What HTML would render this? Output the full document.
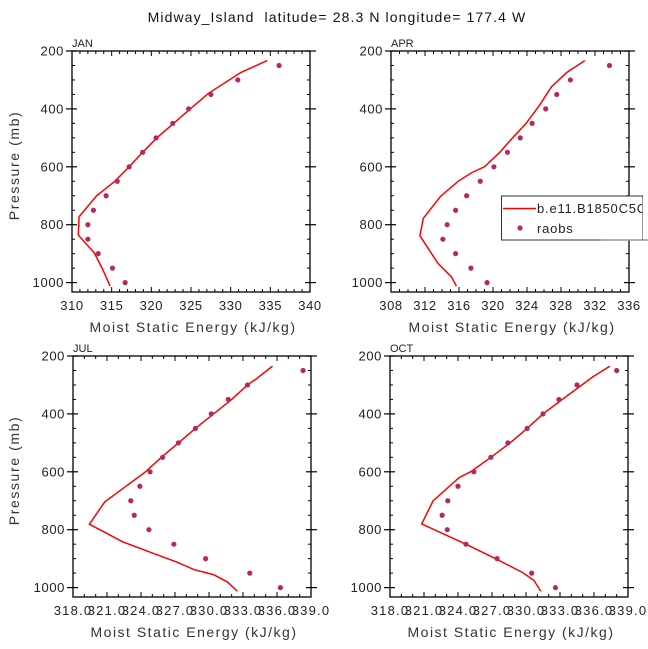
<!DOCTYPE html>
<html><head><meta charset="utf-8"><style>
html,body{margin:0;padding:0;background:#fff;}
svg{display:block;font-family:"Liberation Sans",sans-serif;}
</style></head><body>
<svg id="chart" width="648" height="649" viewBox="0 0 648 649" xmlns="http://www.w3.org/2000/svg">
<rect x="0" y="0" width="648" height="649" fill="#fff"/>
<text x="337" y="22" font-size="14" text-anchor="middle" fill="#111" letter-spacing="1.1" style="white-space:pre">Midway_Island  latitude= 28.3 N longitude= 177.4 W</text>
</svg>
<script>
// ---- data ----
const obsLevels = [250,300,350,400,450,500,550,600,650,700,750,800,850,900,950,1000];
const janObs = [336.1,330.9,327.5,324.7,322.7,320.6,318.9,317.2,315.7,314.3,312.7,312.0,312.0,313.3,315.1,316.7];
const aprObs = [333.7,329.1,327.5,326.2,324.6,323.2,321.7,320.1,318.5,316.9,315.6,314.6,314.1,315.6,317.4,319.3];
const julObs = [338.3,333.4,331.7,330.2,328.8,327.3,325.9,324.8,323.9,323.1,323.4,324.7,326.9,329.7,333.6,336.3];
const octObs = [338.0,334.5,332.9,331.5,330.1,328.4,326.9,325.4,324.0,323.1,322.6,323.05,324.7,327.45,330.5,332.6];
const janModelP = [233,274,346,400,450,500,550,600,650,700,772,836,897,950,1012];
const janModel = [334.6,331.3,327.2,324.9,322.8,320.7,318.9,317.2,315.4,313.1,310.9,310.8,312.8,313.8,314.8];
const aprModelP = [233,274,323,386,450,500,550,600,620,650,703,778,838,933,980,1012];
const aprModel = [330.8,328.7,326.9,325.5,323.9,322.3,320.8,319.0,317.5,315.9,313.8,311.8,311.4,313.5,315.1,315.7];
const julModelP = [235,278,300,350,400,450,500,550,600,623,704,781,842,882,911,938,955,980,1012];
const julModel = [335.6,334.2,333.4,332.0,330.4,328.8,327.3,325.8,324.4,323.6,320.8,319.45,322.4,325.1,327.1,328.7,330.4,331.6,332.5];
const octModelP = [235,272,350,400,450,500,550,600,620,700,780,850,900,948,975,1012];
const octModel = [337.4,335.9,333.2,331.5,330.1,328.6,326.9,325.1,324.1,321.8,320.8,324.7,327.3,329.7,330.7,331.3];
const janTicks = [310,315,320,325,330,335,340];
const aprTicks = [308,312,316,320,324,328,332,336];
const julTicks = [318,321,324,327,330,333,336,339];
const octTicks = [318,321,324,327,330,333,336,339];
const pTicks = [200,400,600,800,1000];

const NS = "http://www.w3.org/2000/svg";
const svg = document.getElementById('chart');
function mk(tag, attrs, parent){
  const e = document.createElementNS(NS, tag);
  for (const k in attrs) e.setAttribute(k, attrs[k]);
  (parent||svg).appendChild(e);
  return e;
}

function panel(name, L, T, xmin, xmax, ticks, minorStep, labelFmt, labelSpacing, obs, modP, mod, showYTitle){
  const R = L + 238, B = T + 241;
  const g = mk('g', {});
  
  
  const xs = v => L + (v - xmin) / (xmax - xmin) * (R - L);
  const ys = p => T + (p - 200) / 800 * 231.6;
  const fr = mk('rect', {x:L, y:T, width:R-L, height:B-T, fill:'none', stroke:'#000', 'stroke-width':1.3}, g);
  
  
  for (let p = 200; p <= 1000; p += 50) {
    const y = ys(p);
    if (p % 200 === 0) {
      mk('line', {x1:L-6, x2:L+5, y1:y, y2:y, stroke:'#000', 'stroke-width':1.2}, g);
      mk('line', {x1:R-5, x2:R+6, y1:y, y2:y, stroke:'#000', 'stroke-width':1.2}, g);
    } else {
      mk('line', {x1:L, x2:L+3, y1:y, y2:y, stroke:'#000', 'stroke-width':1}, g);
      mk('line', {x1:R-3, x2:R, y1:y, y2:y, stroke:'#000', 'stroke-width':1}, g);
    }
  }
  pTicks.forEach(p => {
    const t = mk('text', {x:L-8, y:ys(p)+4.5, 'font-size':13, 'text-anchor':'end', fill:'#222', 'letter-spacing':'0.6'}, g);
    t.textContent = p;
    
    
  });
  for (let v = xmin; v <= xmax + 1e-6; v += minorStep) {
    const x = xs(v);
    const major = ticks.some(t => Math.abs(t - v) < 1e-6);
    const len = major ? 5 : 3;
    mk('line', {x1:x, x2:x, y1:B-len, y2:B, stroke:'#000', 'stroke-width':1}, g);
    mk('line', {x1:x, x2:x, y1:T, y2:T+len, stroke:'#000', 'stroke-width':1}, g);
  }
  ticks.forEach(v => {
    const t = mk('text', {x:xs(v), y:B+18, 'font-size':13, 'text-anchor':'middle', fill:'#222', 'letter-spacing':labelSpacing}, g);
    t.textContent = labelFmt(v);
    
    
  });
  const pl = mk('text', {x:L, y:T-4, 'font-size':11, fill:'#222'}, g);
  pl.textContent = name.toUpperCase();
  
  
  const xt = mk('text', {x:(L+R)/2+2, y:B+40, 'font-size':14, 'text-anchor':'middle', fill:'#333', 'letter-spacing':'1.5'}, g);
  xt.textContent = 'Moist Static Energy (kJ/kg)';
  
  
  if (showYTitle) {
    const yt = mk('text', {x:0, y:0, 'font-size':14, 'text-anchor':'middle', fill:'#333', 'letter-spacing':'1.6', transform:'translate(19,'+((T+B)/2-6)+') rotate(-90)'}, g);
    yt.textContent = 'Pressure (mb)';
    
    
  }
  const pts = mod.map((v,i) => xs(v).toFixed(1) + ',' + ys(modP[i]).toFixed(1)).join(' ');
  const pl2 = mk('polyline', {points:pts, fill:'none', stroke:'#ff0000', 'stroke-width':1.5}, g);
  
  
  obs.forEach((v,i) => {
    const c = mk('circle', {cx:xs(v), cy:ys(obsLevels[i]), r:2.6, fill:'#b52a5e'}, g);
    
    
  });
}

const f0 = v => String(v);
const f1 = v => v.toFixed(1);
panel('jan', 72, 51, 310, 340, janTicks, 1, f0, '0.6', janObs, janModelP, janModel, true);
panel('apr', 391, 51, 308, 336, aprTicks, 1, f0, '0.6', aprObs, aprModelP, aprModel, false);
panel('jul', 73, 356, 318, 339, julTicks, 1, f1, '1.2', julObs, julModelP, julModel, true);
panel('oct', 390, 356, 318, 339, octTicks, 1, f1, '1.2', octObs, octModelP, octModel, false);

const lg = mk('g', {});


mk('rect', {x:501.5, y:196, width:141, height:44, fill:'#fff', stroke:'#333', 'stroke-width':1}, lg);
mk('rect', {x:643, y:196, width:5, height:43, fill:'#fff'}, lg);
mk('line', {x1:601, x2:648, y1:240, y2:240, stroke:'#999', 'stroke-width':1.5}, lg);
const l1 = mk('line', {x1:503, x2:536, y1:208.5, y2:208.5, stroke:'#ff0000', 'stroke-width':1.5}, lg);


const t1 = mk('text', {x:537, y:213, 'font-size':13, fill:'#222', 'letter-spacing':'0.8'}, lg);
t1.textContent = 'b.e11.B1850C5CN';


mk('rect', {x:642.5, y:197, width:6, height:42, fill:'#fff'}, lg);
const c1 = mk('circle', {cx:520, cy:228, r:2.6, fill:'#b52a5e'}, lg);


const t2 = mk('text', {x:537, y:233, 'font-size':13, fill:'#222', 'letter-spacing':'0.8'}, lg);
t2.textContent = 'raobs';


</script>
</body></html>
